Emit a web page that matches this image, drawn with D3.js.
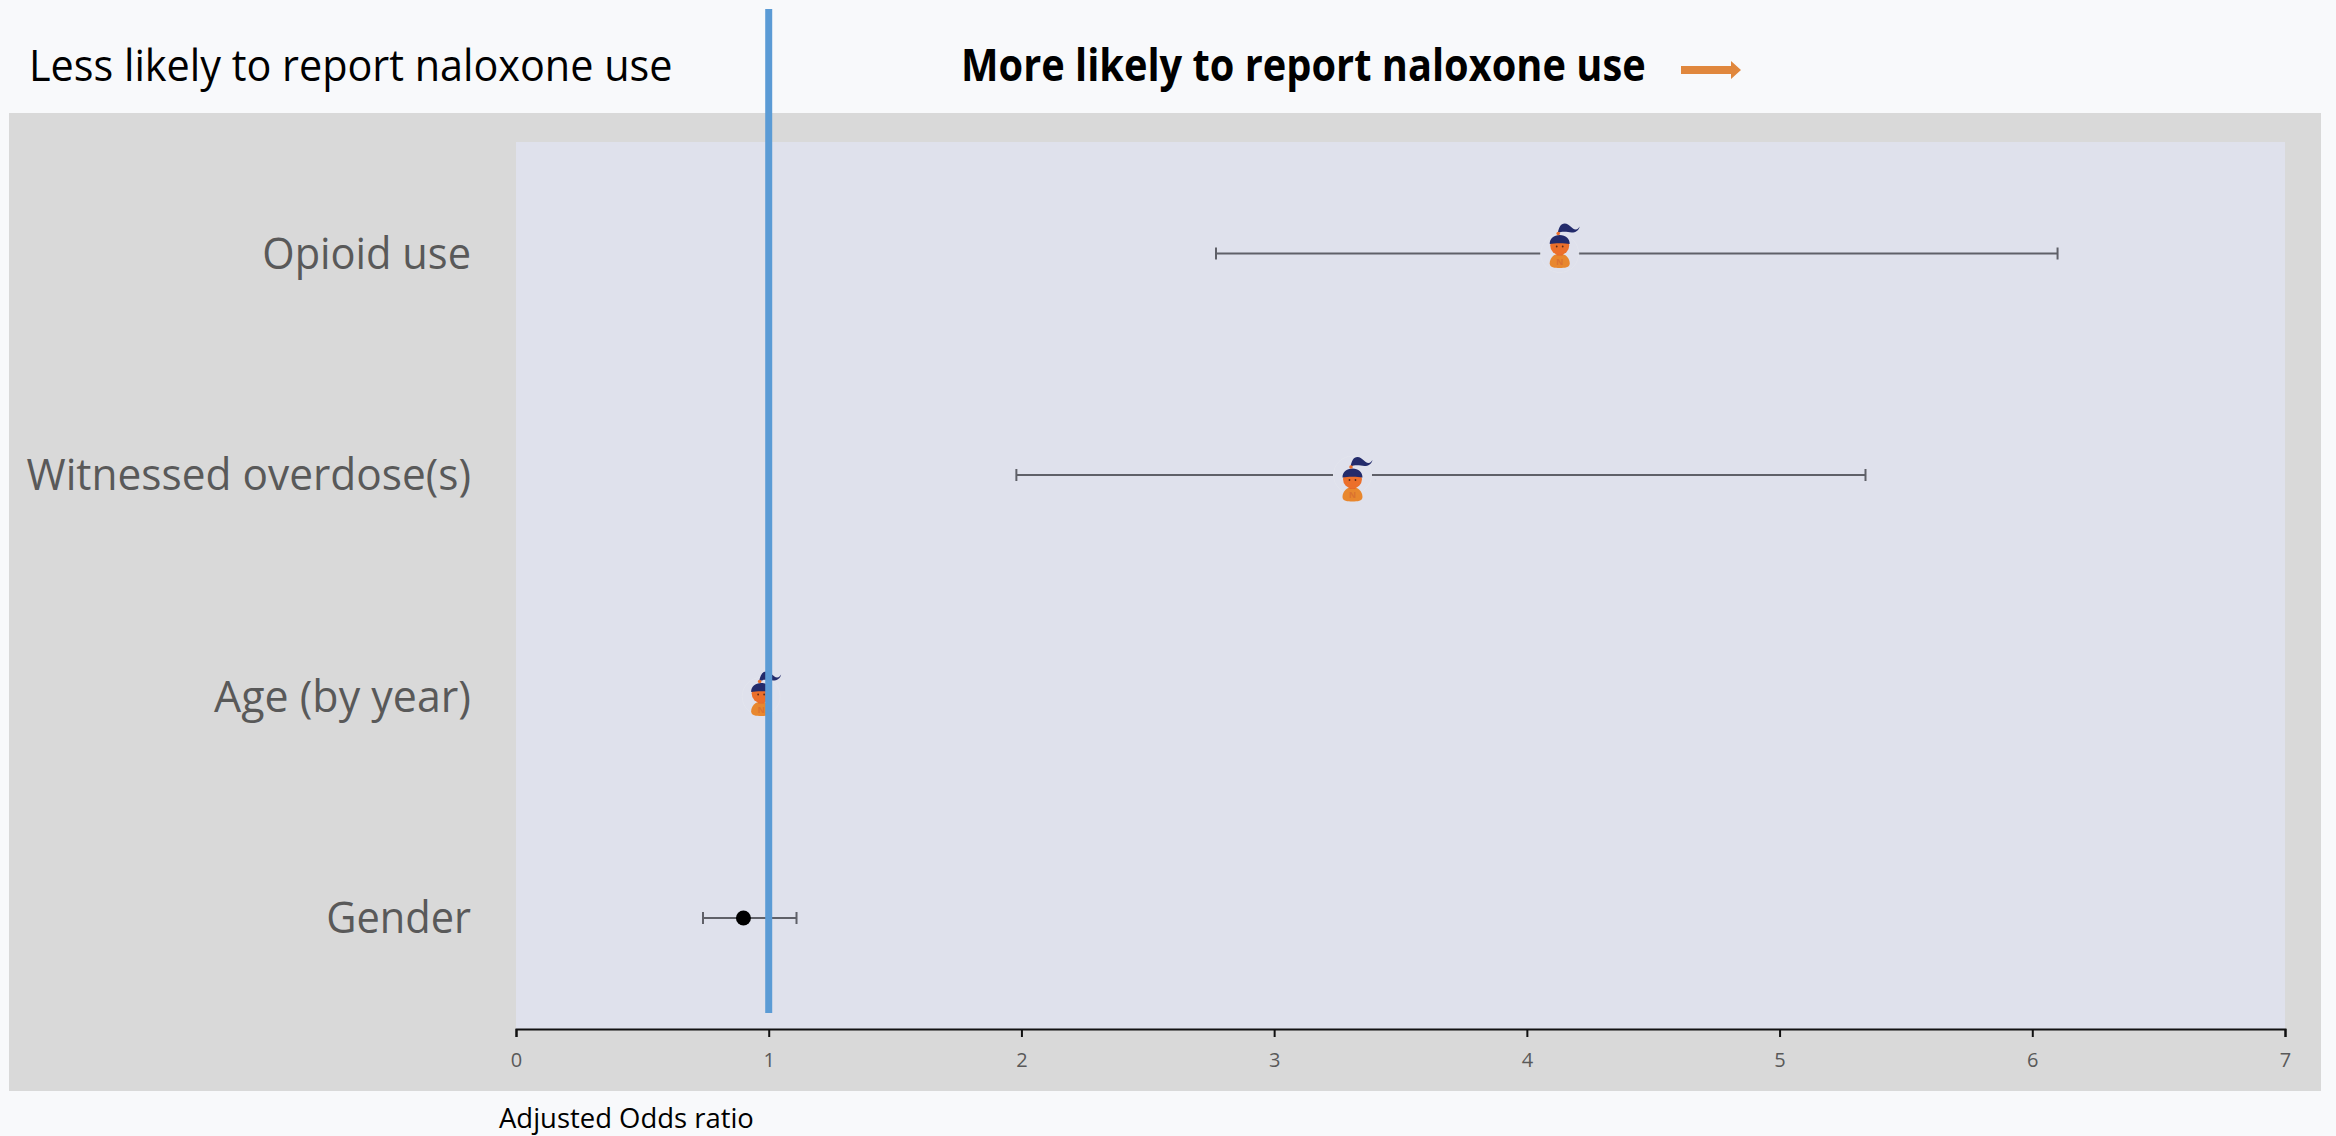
<!DOCTYPE html>
<html><head><meta charset="utf-8">
<script src="https://cdn.jsdelivr.net/npm/d3@7/dist/d3.min.js"></script>
<style>html,body{margin:0;padding:0;background:#F8F9FB}svg{display:block}text{font-family:"Open Sans",sans-serif}</style>
</head><body><script>
const categories = ["Opioid use","Witnessed overdose(s)","Age (by year)","Gender"];
const oddsRatio = [4.13,3.31,0.97,0.90];
const ciLow = [2.77,1.98,0.95,0.74];
const ciHigh = [6.10,5.34,0.99,1.11];
const markerType = ["icon","icon","icon","dot"];
const xTicks = [0,1,2,3,4,5,6,7];
const leftLabel = "Less likely to report naloxone use";
const rightLabel = "More likely to report naloxone use";
const xTitle = "Adjusted Odds ratio";
const refValue = 1;

const W=2336,H=1136;
const svg=d3.select("body").append("svg").attr("width",W).attr("height",H);
svg.append("rect").attr("width",W).attr("height",H).attr("fill","#F8F9FB");
svg.append("rect").attr("x",9).attr("y",113).attr("width",2312).attr("height",978).attr("fill","#D9D9D9");
const px0=516,px1=2285,pTop=142,pBot=1029;
svg.append("rect").attr("x",px0).attr("y",pTop).attr("width",px1-px0).attr("height",pBot-pTop).attr("fill","#DFE1EC");
const x=d3.scaleLinear().domain([0,7]).range([px0,px1]);
const y=d3.scalePoint().domain(categories).range([253.5,918]);

// axis
const ax=svg.append("g").attr("transform",`translate(0,${pBot})`).call(d3.axisBottom(x).tickValues(xTicks).tickFormat(d3.format("d")).tickSize(8).tickPadding(16).tickSizeOuter(8));
ax.select(".domain").attr("stroke","#111").attr("stroke-width",2);
ax.selectAll(".tick line").attr("stroke","#111").attr("stroke-width",2);
ax.selectAll(".tick text").attr("fill","#595959").style("font-size","20px").style("font-family",'"Open Sans",sans-serif');

// condensed text helper
function label(xp,yp,s,size,fill,anchor,weight,sx){
  svg.append("text").attr("transform",`translate(${xp},${yp}) scale(${sx},1)`)
    .attr("text-anchor",anchor).attr("fill",fill).attr("font-weight",weight||400)
    .style("font-size",size+"px").text(s);
}
const catScale={"Opioid use":0.945,"Witnessed overdose(s)":0.964,"Age (by year)":0.976,"Gender":0.945};
categories.forEach(c=>label(471,y(c)+15,c,44,"#595959","end",400,catScale[c]));
label(29,81,leftLabel,44,"#000","start",400,0.94);
label(961,81,rightLabel,44,"#000","start",700,0.904);
label(499,1128,xTitle,28,"#000","start",400,0.98);

// arrow
const arrowY=70;
svg.append("path").attr("d",`M1681,${arrowY-4}H1731V${arrowY-9}L1741,${arrowY}L1731,${arrowY+9}V${arrowY+4}H1681Z`).attr("fill","#E0873D");

// icon vertical offset from the line, per row
const iconShift={"Opioid use":0,"Witnessed overdose(s)":12,"Age (by year)":5};

// error bars
const rows=categories.map((c,i)=>({c,or:oddsRatio[i],lo:ciLow[i],hi:ciHigh[i],type:markerType[i]}));
const g=svg.append("g");
rows.forEach(d=>{
  const yy=y(d.c);
  g.append("line").attr("x1",x(d.lo)).attr("x2",x(d.hi)).attr("y1",yy).attr("y2",yy).attr("stroke","#5f6068").attr("stroke-width",2);
  [d.lo,d.hi].forEach(v=>g.append("line").attr("x1",x(v)).attr("x2",x(v)).attr("y1",yy-6).attr("y2",yy+6).attr("stroke","#5f6068").attr("stroke-width",2));
  const m=g.append("g").attr("transform",`translate(${x(d.or)},${yy})`);
  if(d.type==="dot"){ m.append("circle").attr("r",7.5).attr("fill","#000"); return; }
  m.append("circle").attr("r",19).attr("fill","#DFE1EC").attr("stroke","#E3E5EE").attr("stroke-width",1);
  const k=m.append("g").attr("transform",`translate(0,${iconShift[d.c]})`);
  // ponytail
  k.append("path").attr("d","M-2,-20C-1,-26 1,-30 5,-30C10,-30 12,-24 16,-24C18,-24 19,-26 20,-27C19,-23 16,-21 12,-21C8,-21 3,-23 -2,-20Z").attr("fill","#232B6B");
  // body
  k.append("path").attr("d","M-10,10C-10,4 -5,0 0,0C5,0 10,4 10,10C10,14 5,14.5 0,14.5C-5,14.5 -10,14 -10,10Z").attr("fill","#E8872E");
  k.append("rect").attr("x",-3).attr("y",-3).attr("width",6).attr("height",5).attr("fill","#E4672A");
  // head
  k.append("circle").attr("cx",0).attr("cy",-8).attr("r",9.5).attr("fill","#EC6F2B");
  // hair
  k.append("path").attr("d","M-10,-9.5C-10,-15 -6,-18.5 0,-18.5C6,-18.5 10,-15 10,-9.5C5,-10.5 -5,-10.5 -10,-9.5Z").attr("fill","#232B6B");
  k.append("circle").attr("cx",-1.5).attr("cy",-20).attr("r",1.8).attr("fill","#EC6F2B");
  k.append("circle").attr("cx",-3).attr("cy",-7).attr("r",0.9).attr("fill","#5a2a1a");
  k.append("circle").attr("cx",3).attr("cy",-7).attr("r",0.9).attr("fill","#5a2a1a");
  k.append("text").attr("y",11).attr("text-anchor","middle").attr("font-weight",700).attr("fill","#DB7230").style("font-size","9px").text("N");
});
// reference line
svg.append("line").attr("x1",x(refValue)).attr("x2",x(refValue)).attr("y1",9).attr("y2",1013).attr("stroke","#5B9BD5").attr("stroke-width",7);
</script></body></html>
